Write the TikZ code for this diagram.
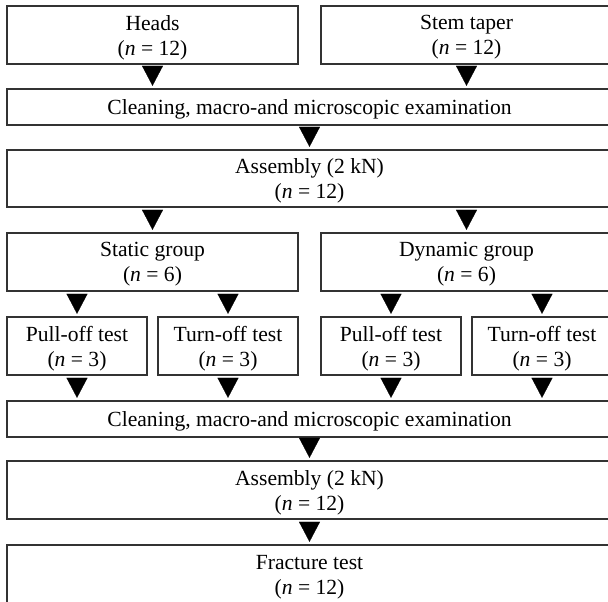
\documentclass[tikz,border=0pt]{standalone}
\usepackage{fontspec}
\setmainfont{Liberation Serif}
\usetikzlibrary{arrows.meta}

\tikzset{
  box/.style={draw=black!80, line width=0.7pt, align=center, inner sep=0pt, text depth=0pt, minimum height=29pt},
  halfbox/.style={box, minimum width=145.5pt},
  fullbox/.style={box, minimum width=302.5pt},
  testbox/.style={box, minimum width=70pt},
  flow/.style={-{Triangle[length=10pt,width=10.5pt]}, line width=0.1pt, shorten <=2pt, shorten >=1.25pt},
}

\begin{document}
\begin{tikzpicture}[x=0.5pt, y=-0.5pt, font=\fontsize{10.8}{12.5}\selectfont]
\useasboundingbox (0,0) rectangle (608,601);
\node[halfbox] (heads) at (152.5,35) {Heads\\(\textit{n} = 12)}; \node[halfbox] (stem) at (466.5,35) {Stem taper\\(\textit{n} = 12)};
\node[fullbox, minimum height=18pt] (clean1) at (309.5,107) {Cleaning, macro-and microscopic examination};
\node[fullbox, minimum height=28.5pt] (assem1) at (309.5,178.5) {Assembly (2 kN)\\(\textit{n} = 12)};
\node[halfbox] (static) at (152.5,262) {Static group\\(\textit{n} = 6)}; \node[halfbox] (dynamic) at (466.5,262) {Dynamic group\\(\textit{n} = 6)};
\node[testbox] (pull1) at (77,346) {Pull-off test\\(\textit{n} = 3)}; \node[testbox] (turn1) at (228,346) {Turn-off test\\(\textit{n} = 3)};
\node[testbox] (pull2) at (391,346) {Pull-off test\\(\textit{n} = 3)}; \node[testbox] (turn2) at (542,346) {Turn-off test\\(\textit{n} = 3)};
\node[fullbox, minimum height=18pt] (clean2) at (309.5,419) {Cleaning, macro-and microscopic examination};
\node[fullbox] (assem2) at (309.5,490) {Assembly (2 kN)\\(\textit{n} = 12)};
\node[fullbox, minimum height=30pt] (fract) at (309.5,575) {Fracture test\\(\textit{n} = 12)};
% triangles between the steps
\draw[flow] (heads.south) -- (clean1.north -| heads.south); \draw[flow] (stem.south) -- (clean1.north -| stem.south);
\draw[flow] (clean1.south) -- (assem1.north);
\draw[flow] (assem1.south -| static.north) -- (static.north); \draw[flow] (assem1.south -| dynamic.north) -- (dynamic.north);
\foreach \g/\t in {static/pull1, static/turn1, dynamic/pull2, dynamic/turn2} {
  \draw[flow] (\g.south -| \t.north) -- (\t.north);
  \draw[flow] (\t.south) -- (clean2.north -| \t.south);
}
\draw[flow] (clean2.south) -- (assem2.north); \draw[flow] (assem2.south) -- (fract.north);
\end{tikzpicture}
\end{document}
